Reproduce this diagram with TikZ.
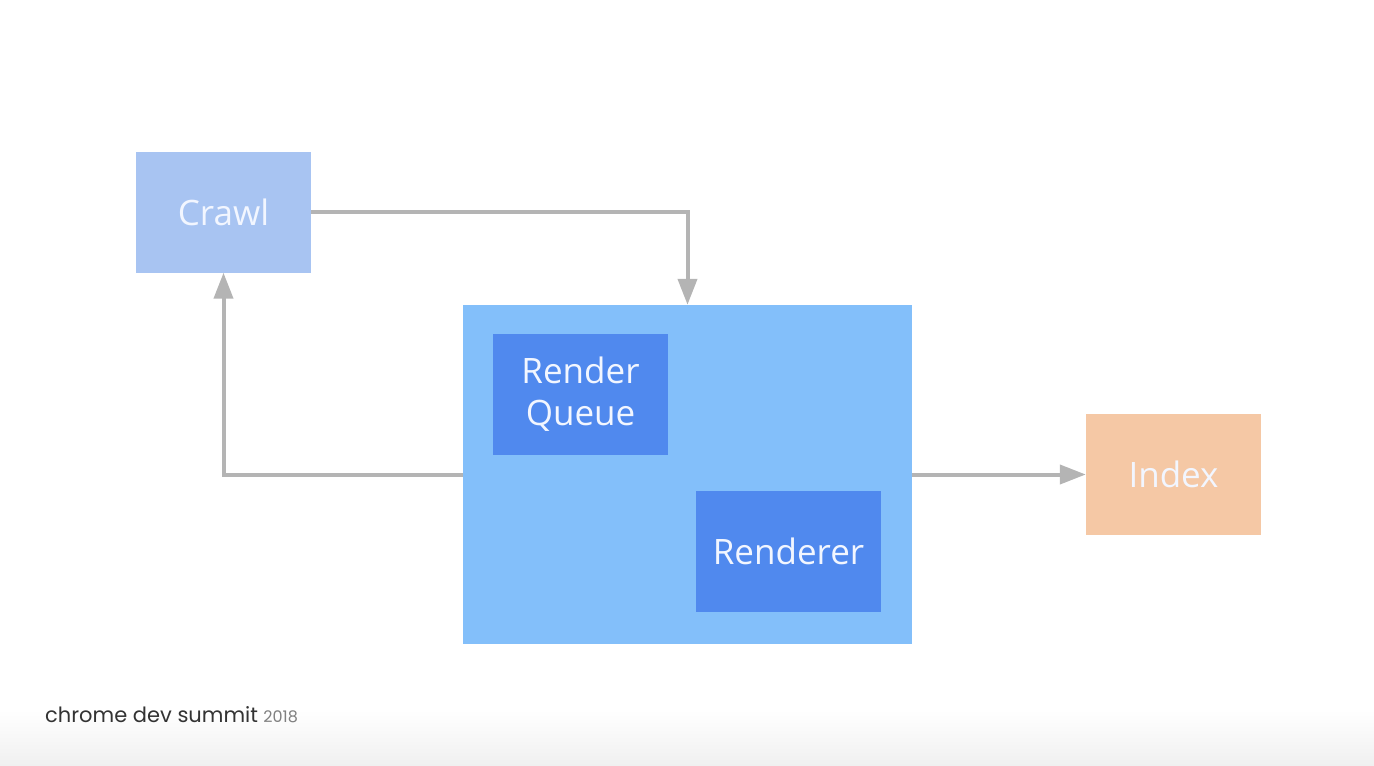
\documentclass[tikz,border=0pt]{standalone}
\usepackage{fontspec}
\setmainfont{Open Sans}
\newfontfamily\footfont{Poppins}
\usepackage{xcolor}
\usetikzlibrary{arrows.meta, positioning}

\definecolor{crawlblue}{HTML}{A8C4F2}
\definecolor{outerblue}{HTML}{83BFFA}
\definecolor{innerblue}{HTML}{5089EE}
\definecolor{indexorange}{HTML}{F5C8A5}
\definecolor{arrowgray}{HTML}{B4B4B4}
\definecolor{labelwhite}{HTML}{F2F6FF}

\begin{document}
\begin{tikzpicture}[x=1pt, y=-1pt,
    stage/.style={rectangle, inner sep=0pt, minimum width=175pt, minimum height=121pt, text=labelwhite, font=\fontsize{35}{42}\selectfont, align=center},
    crawlbox/.style={stage, fill=crawlblue},
    indexbox/.style={stage, fill=indexorange},
    innerbox/.style={stage, fill=innerblue},
    outerbox/.style={rectangle, inner sep=0pt, fill=outerblue, minimum width=449pt, minimum height=339pt},
    flow/.style={-{Triangle[length=26pt, width=19pt]}, line width=4pt, arrowgray}]

    \useasboundingbox (0,0) rectangle (1374,766);
    \shade[top color=white, bottom color=black!6] (0,710) rectangle (1374,766);

    % Stages
    \node[crawlbox] (crawl) at (223.5,212) {Crawl};
    \node[outerbox] (render) at (687.5,474.5) {};
    \node[innerbox] (rqueue) at (580.5,394.5) {Render\\Queue};
    \node[innerbox, minimum width=185pt] (renderer) at (788.5,551.5) {Renderer};
    \node[indexbox] (index) at (1173.5,474.5) {Index};

    % Connectors
    \draw[flow] (crawl.east) -| (render.north);
    \draw[flow] (render.west) -| (crawl.south);
    \draw[flow] (render.east) -- (index.west);

    % Footer
    \node[anchor=base west, inner sep=0pt, font=\footfont\fontsize{21}{24}\selectfont, text=black!80] (footer) at (45,722) {chrome dev summit};
    \node[anchor=base west, inner sep=0pt, font=\footfont\fontsize{16}{20}\selectfont, text=black!50] (year) at ([xshift=5pt]footer.base east) {2018};
\end{tikzpicture}
\end{document}
